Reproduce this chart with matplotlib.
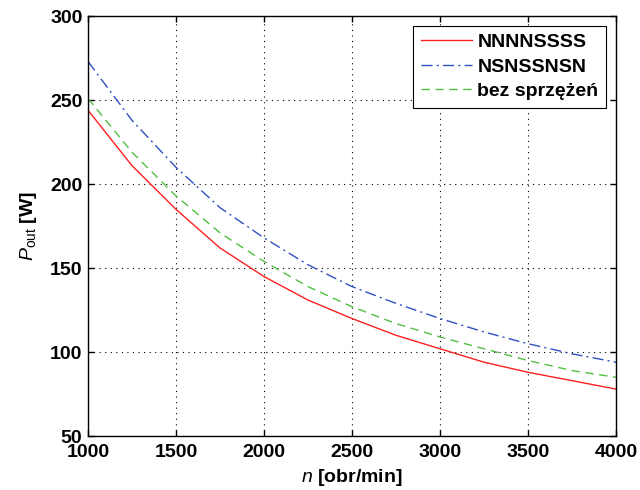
import matplotlib
matplotlib.use('Agg')
import matplotlib.pyplot as plt
import matplotlib.ticker as ticker

# speed [obr/min] and output power [W]
n = [1000, 1250, 1500, 1750, 2000, 2250, 2500, 2750, 3000, 3250, 3500, 3750, 4000]
p_nnnnssss = [244, 211, 185, 162, 145, 131, 120, 110, 102, 94, 88, 83, 78]
p_nsnssnsn = [273, 238, 210, 186, 168, 152, 139, 129, 120, 112, 105, 99, 94]
p_bez = [251, 219, 193, 171, 154, 139, 127, 117, 109, 102, 95, 89, 85]

plt.rcParams['font.family'] = ['Liberation Sans', 'DejaVu Sans']
plt.rcParams['mathtext.fontset'] = 'custom'
plt.rcParams['mathtext.it'] = 'Liberation Sans:italic'
plt.rcParams['mathtext.rm'] = 'Liberation Sans'

fig = plt.figure(figsize=(6.4, 4.9), dpi=100)
ax = fig.add_axes([0.1375, 0.110, 0.825, 0.857])

ax.plot(n, p_nnnnssss, color='#ff2020', linewidth=1.0, linestyle='-', label='NNNNSSSS')
ax.plot(n, p_nsnssnsn, color='#3050c0', linewidth=1.0, linestyle=(0, (8, 3, 1.5, 3)), label='NSNSSNSN')
ax.plot(n, p_bez, color='#50c040', linewidth=1.0, linestyle=(0, (6, 4)), label='bez sprzężeń')

ax.set_xlim(1000, 4000)
ax.set_ylim(50, 300)
ax.xaxis.set_major_locator(ticker.MultipleLocator(500))
ax.yaxis.set_major_locator(ticker.MultipleLocator(50))
ax.tick_params(direction='in', top=True, right=True, labelsize=14, length=4, width=1)
ax.tick_params(axis='x', pad=6)
ax.tick_params(axis='y', pad=4)
for lbl in ax.get_xticklabels() + ax.get_yticklabels():
    lbl.set_fontweight('bold')
ax.grid(True, color='black', linestyle=(0, (1, 4)), linewidth=0.8)

ax.set_xlabel(r'$n$ [obr/min]', fontsize=14, labelpad=4, fontweight='bold')
ax.set_ylabel(r'$P_{\mathrm{out}}$ [W]', fontsize=14, labelpad=8, fontweight='bold')

leg = ax.legend(loc='upper right', fontsize=14, fancybox=False, framealpha=1,
                edgecolor='black', handlelength=2.6, borderaxespad=0.5,
                labelspacing=0.35, handletextpad=0.3)
leg.get_frame().set_linewidth(0.8)
for t in leg.get_texts():
    t.set_fontweight('bold')

for s in ax.spines.values():
    s.set_linewidth(1.0)

fig.savefig('out.png', dpi=100)
